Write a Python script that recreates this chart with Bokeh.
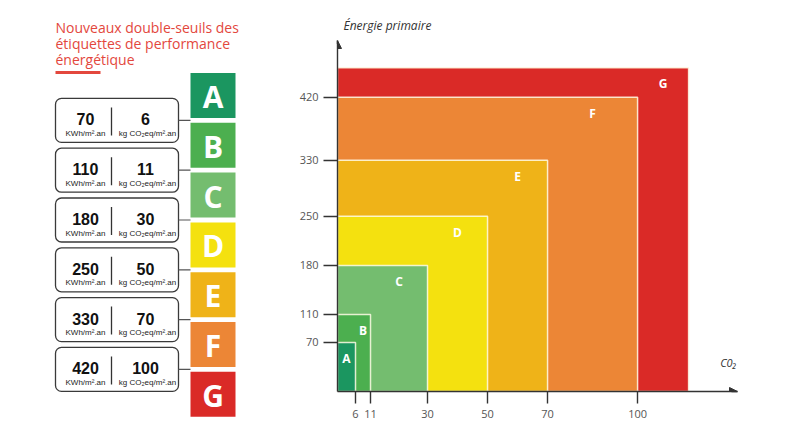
from bokeh.plotting import figure
from bokeh.models import Range1d, FixedTicker, Arrow, NormalHead, Label, ColumnDataSource
from bokeh.layouts import row
from bokeh.embed import file_html
from bokeh.resources import INLINE
from bokeh.core.properties import value

# ---------------- data ----------------
classes = ["A", "B", "C", "D", "E", "F", "G"]
energy_thresholds = [70, 110, 180, 250, 330, 420]   # kWh/m².an (upper bound of A..F)
co2_thresholds = [6, 11, 30, 50, 70, 100]           # kg CO2eq/m².an (upper bound of A..F)
g_extent_energy = 462   # drawn extent of open-ended class G
g_extent_co2 = 117
class_colors = ["#1b9660", "#4caf4f", "#74bd6f", "#f4e10f", "#efb318", "#ec8636", "#da2a27"]
energy_unit = "KWh/m².an"
co2_unit = "kg CO₂eq/m².an"
title_lines = ["Nouveaux double-seuils des", "étiquettes de performance", "énergétique"]
y_axis_title = "Énergie primaire"
x_axis_title = "C0₂"

RED = "#e3473d"
DARK = "#333333"
FONT = "Open Sans"
NUMFONT = "Liberation Sans"

# ---------------- left panel (label table) ----------------
LW, H = 250, 423
lp = figure(width=LW, height=H, x_range=Range1d(0, LW), y_range=Range1d(H, 0),
            output_backend="svg", toolbar_location=None, min_border=0,
            x_axis_type=None, y_axis_type=None)
lp.frame_align = False
lp.grid.visible = False
lp.outline_line_color = None

title_y = [27 + 16 * i for i in range(len(title_lines))]
lp.text(x=[55] * len(title_lines), y=title_y, text=title_lines, text_color=RED,
        text_font=value(FONT), text_font_size="14px", text_baseline="alphabetic",
        text_align="left")
lp.quad(left=55, right=100, top=70.5, bottom=73.5, fill_color=RED, line_color=None)

step = 49.8
letter_top = [72.5 + step * i for i in range(len(classes))]
lsrc = ColumnDataSource(dict(cls=classes, top=letter_top,
                             bottom=[t + 45 for t in letter_top],
                             mid=[t + 23.5 for t in letter_top], color=class_colors))
lp.quad(left=190, right=235, top="top", bottom="bottom", fill_color="color",
        line_color=None, source=lsrc)
lp.text(x=212.5, y="mid", text="cls", text_color="white", text_font=value(FONT),
        text_font_size="30px", text_font_style="bold", text_align="center",
        text_baseline="middle", source=lsrc)

box_c = [letter_top[i] + 47.4 for i in range(len(energy_thresholds))]
bsrc = ColumnDataSource(dict(
    c=box_c, top=[c - 22 for c in box_c], bottom=[c + 22 for c in box_c],
    e=[str(v) for v in energy_thresholds], g=[str(v) for v in co2_thresholds],
    num_y=[c - 1 for c in box_c], unit_y=[c + 13 for c in box_c],
    div_top=[c - 13 for c in box_c], div_bot=[c + 15 for c in box_c]))
lp.quad(left=55, right=178, top="top", bottom="bottom", fill_color="white",
        line_color="#3a3a3a", line_width=1.3, border_radius=6, source=bsrc)
lp.segment(x0=178, x1=190, y0="c", y1="c", line_color="#555555", line_width=1.2, source=bsrc)
lp.segment(x0=111, x1=111, y0="div_top", y1="div_bot", line_color="#333333", line_width=1.3, source=bsrc)
lp.text(x=85, y="num_y", text="e", text_color="#111111", text_font=value(NUMFONT),
        text_font_size="16px", text_font_style="bold", text_align="center",
        text_baseline="alphabetic", source=bsrc)
lp.text(x=145, y="num_y", text="g", text_color="#111111", text_font=value(NUMFONT),
        text_font_size="16px", text_font_style="bold", text_align="center",
        text_baseline="alphabetic", source=bsrc)
lp.text(x=85, y="unit_y", text=value(energy_unit), text_color="#222222",
        text_font=value(NUMFONT), text_font_size="8px", text_align="center",
        text_baseline="alphabetic", source=bsrc)
lp.text(x=147, y="unit_y", text=value(co2_unit), text_color="#222222",
        text_font=value(NUMFONT), text_font_size="8px", text_align="center",
        text_baseline="alphabetic", source=bsrc)

# ---------------- right panel (double-threshold chart) ----------------
x_end = 133.3
y_end = 501
p = figure(width=784 - LW, height=H, x_range=Range1d(0, x_end), y_range=Range1d(0, y_end),
           output_backend="svg", toolbar_location=None,
           min_border_left=87, min_border_right=47, min_border_top=40, min_border_bottom=32)
p.frame_align = False
p.grid.visible = False
p.outline_line_color = None

p.title.text = y_axis_title
p.title.text_font = FONT
p.title.text_font_size = "12px"
p.title.text_font_style = "italic"
p.title.text_color = DARK
p.title.align = "left"
p.title.offset = 6
p.title.standoff = 14

rights = co2_thresholds + [g_extent_co2]
tops = energy_thresholds + [g_extent_energy]
lows = [0] + co2_thresholds
mids = [(a + b) / 2 for a, b in zip(lows, rights)]
csrc = ColumnDataSource(dict(cls=classes[::-1], right=rights[::-1], top=tops[::-1],
                             mid=mids[::-1], color=class_colors[::-1]))
p.quad(left=0, bottom=0, right="right", top="top", fill_color="color",
       line_color="#fffbe6", line_alpha=0.85, line_width=1.5, source=csrc)
p.text(x="mid", y="top", text="cls", y_offset=16, text_color="white",
       text_font=value(FONT), text_font_size="12px", text_font_style="bold",
       text_align="center", text_baseline="middle", source=csrc)

for ax, ticks, tick_len, standoff in ((p.xaxis, co2_thresholds, 12, 6),
                                      (p.yaxis, energy_thresholds, 14, 5)):
    ax.ticker = FixedTicker(ticks=ticks)
    ax.axis_line_color = DARK
    ax.axis_line_width = 1.4
    ax.major_tick_line_color = DARK
    ax.major_tick_line_width = 1.4
    ax.major_tick_in = 0
    ax.major_tick_out = tick_len
    ax.minor_tick_line_color = None
    ax.major_label_text_font = FONT
    ax.major_label_text_font_size = "11px"
    ax.major_label_text_color = "#555555"
    ax.major_label_standoff = standoff

p.add_layout(Arrow(end=NormalHead(size=8, fill_color=DARK, line_color=DARK),
                   x_start=x_end - 2, y_start=0, x_end=x_end, y_end=0,
                   line_color=DARK, line_width=1.4))
p.add_layout(Arrow(end=NormalHead(size=8, fill_color=DARK, line_color=DARK),
                   x_start=0, y_start=y_end - 5, x_end=0, y_end=y_end,
                   line_color=DARK, line_width=1.4))
p.add_layout(Label(x=x_end, y=0, x_offset=-1, y_offset=29, text=x_axis_title, text_font=FONT,
                   text_font_size="11px", text_font_style="italic", text_color=DARK,
                   text_align="right", text_baseline="middle"))

layout = row(lp, p)
open("out.html", "w").write(file_html(layout, INLINE))
